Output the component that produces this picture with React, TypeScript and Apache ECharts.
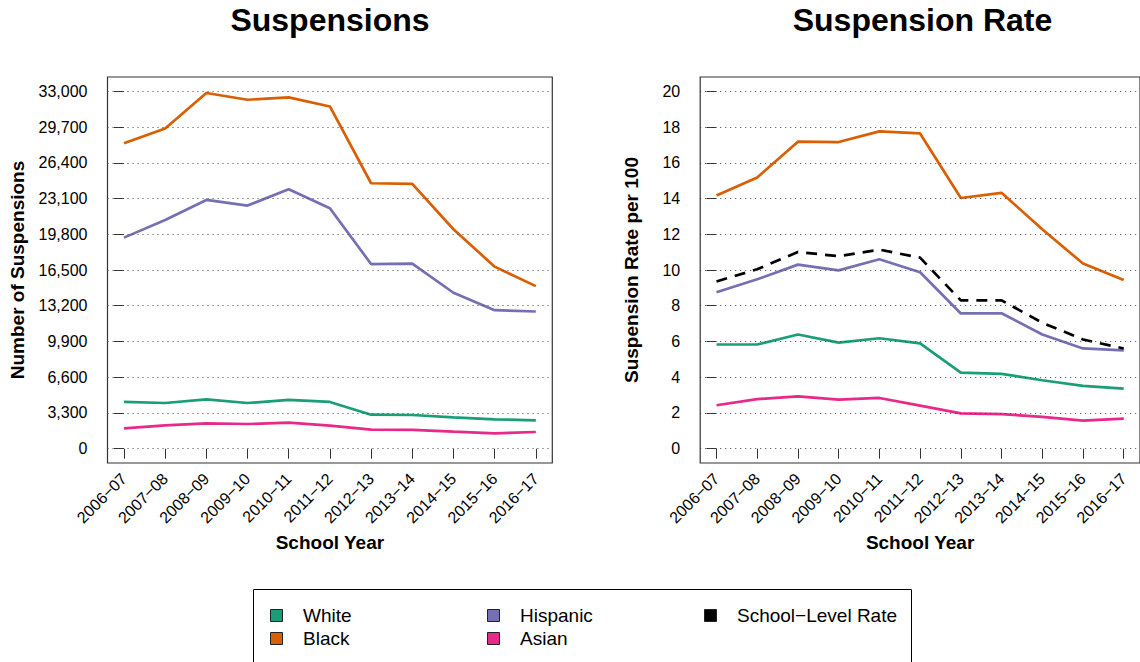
import React, { useEffect, useRef } from "react";
import * as echarts from "echarts";

const categories = ["2006−07", "2007−08", "2008−09", "2009−10", "2010−11", "2011−12", "2012−13", "2013−14", "2014−15", "2015−16", "2016−17"];
const countTicks = [0, 3300, 6600, 9900, 13200, 16500, 19800, 23100, 26400, 29700, 33000];
const rateTicks = [0, 2, 4, 6, 8, 10, 12, 14, 16, 18, 20];

const groupNames = ["White", "Black", "Hispanic", "Asian"];
const schoolName = "School−Level Rate";
const groupColors = ["#1B9E77", "#D95F02", "#7570B3", "#E7298A"];
const schoolColor = "#000000";

const whiteCounts = [4320, 4220, 4560, 4220, 4500, 4320, 3140, 3110, 2900, 2710, 2620];
const blackCounts = [28210, 29570, 32840, 32220, 32440, 31600, 24510, 24450, 20260, 16810, 15010];
const hispanicCounts = [19490, 21120, 22970, 22450, 23960, 22200, 17050, 17080, 14400, 12790, 12670];
const asianCounts = [1880, 2160, 2340, 2280, 2400, 2130, 1760, 1730, 1570, 1420, 1540];

const whiteRates = [5.83, 5.83, 6.39, 5.94, 6.18, 5.89, 4.26, 4.19, 3.83, 3.52, 3.36];
const blackRates = [14.17, 15.18, 17.18, 17.16, 17.76, 17.64, 14.03, 14.32, 12.28, 10.36, 9.44];
const hispanicRates = [8.75, 9.48, 10.3, 9.98, 10.6, 9.87, 7.57, 7.58, 6.39, 5.61, 5.5];
const asianRates = [2.43, 2.77, 2.93, 2.75, 2.84, 2.41, 1.98, 1.94, 1.78, 1.57, 1.68];
const schoolRates = [9.36, 10.04, 11.01, 10.77, 11.14, 10.69, 8.3, 8.3, 7.05, 6.11, 5.61];

const titles = ["Suspensions", "Suspension Rate"];
const yTitles = ["Number of Suspensions", "Suspension Rate per 100"];
const xTitle = "School Year";

const FONT = "'Liberation Sans', Arial, Helvetica, sans-serif";

function withCommas(v: number): string {
  return String(v).replace(/\B(?=(\d{3})+(?!\d))/g, ",");
}

export default function App() {
  const ref = useRef<HTMLDivElement>(null);

  useEffect(() => {
    if (!ref.current) return;
    document.body.style.margin = "0";
    const chart = echarts.init(ref.current, null, { renderer: "svg" });

    const catIdx = categories.map((_, i) => i);
    const toData = (vals: number[]) => vals.map((v, i) => [i, v]);

    const countSets = [whiteCounts, blackCounts, hispanicCounts, asianCounts];
    const rateSets = [whiteRates, blackRates, hispanicRates, asianRates];

    const gridLine = (ticks: number[]) => ({
      silent: true,
      symbol: "none",
      label: { show: false },
      lineStyle: { type: [1, 4], color: "#444", width: 1 },
      data: ticks.map((v) => ({ yAxis: v })),
    });

    const xAxisBase = (gridIndex: number) => ({
      type: "value",
      gridIndex,
      min: -0.4,
      max: 10.4,
      axisLine: { show: false },
      splitLine: { show: false },
      axisTick: { show: true, inside: false, length: 10, customValues: catIdx, lineStyle: { color: "#333", width: 1 } },
      axisLabel: {
        customValues: catIdx,
        rotate: 45,
        margin: 13,
        fontSize: 16,
        color: "#000",
        fontFamily: FONT,
        formatter: (v: number) => categories[Math.round(v)] ?? "",
      },
      name: xTitle,
      nameLocation: "middle",
      nameGap: 68,
      nameTextStyle: { fontSize: 19, fontWeight: "bold", color: "#000", fontFamily: FONT },
    });

    const yAxisBase = (gridIndex: number, ticks: number[], min: number, max: number, fmt: (v: number) => string, nameGap: number) => ({
      type: "value",
      gridIndex,
      min,
      max,
      axisLine: { show: false },
      splitLine: { show: false },
      axisTick: { show: true, inside: false, length: 10, customValues: ticks, lineStyle: { color: "#333", width: 1 } },
      axisLabel: { customValues: ticks, margin: 20, fontSize: 16, color: "#000", fontFamily: FONT, formatter: fmt },
      name: yTitles[gridIndex],
      nameLocation: "middle",
      nameGap,
      nameTextStyle: { fontSize: 19, fontWeight: "bold", color: "#000", fontFamily: FONT },
    });

    const series: any[] = [];
    countSets.forEach((vals, k) => {
      series.push({
        type: "line",
        name: groupNames[k],
        xAxisIndex: 0,
        yAxisIndex: 0,
        data: toData(vals),
        symbol: "none",
        lineStyle: { width: 2.7, color: groupColors[k] },
        itemStyle: { color: groupColors[k] },
        z: 3,
        ...(k === 0 ? { markLine: gridLine(countTicks) } : {}),
      });
    });
    rateSets.forEach((vals, k) => {
      series.push({
        type: "line",
        name: groupNames[k],
        xAxisIndex: 1,
        yAxisIndex: 1,
        data: toData(vals),
        symbol: "none",
        lineStyle: { width: 2.7, color: groupColors[k] },
        itemStyle: { color: groupColors[k] },
        z: 3,
        ...(k === 0 ? { markLine: gridLine(rateTicks) } : {}),
      });
    });
    series.push({
      type: "line",
      name: schoolName,
      xAxisIndex: 1,
      yAxisIndex: 1,
      data: toData(schoolRates),
      symbol: "none",
      lineStyle: { width: 2.7, color: schoolColor, type: [11, 8] },
      itemStyle: { color: schoolColor },
      z: 4,
    });

    // legend graphics
    const legendItems = [
      { name: groupNames[0], color: groupColors[0], col: 0, row: 0 },
      { name: groupNames[1], color: groupColors[1], col: 0, row: 1 },
      { name: groupNames[2], color: groupColors[2], col: 1, row: 0 },
      { name: groupNames[3], color: groupColors[3], col: 1, row: 1 },
      { name: schoolName, color: schoolColor, col: 2, row: 0 },
    ];
    const colX = [270, 487, 704];
    const rowY = [615, 638];
    const legendGraphics: any[] = [
      {
        type: "rect",
        shape: { x: 253.5, y: 589.5, width: 658, height: 100 },
        style: { fill: "none", stroke: "#000", lineWidth: 1 },
      },
    ];
    legendItems.forEach((it) => {
      legendGraphics.push({
        type: "rect",
        shape: { x: colX[it.col] + 0.5, y: rowY[it.row] - 6 + 0.5, width: 12, height: 12 },
        style: { fill: it.color, stroke: "#222", lineWidth: 1 },
      });
      legendGraphics.push({
        type: "text",
        x: colX[it.col] + 33,
        y: rowY[it.row],
        style: { text: it.name, font: `19px ${FONT}`, fill: "#000", textAlign: "left", textVerticalAlign: "middle" },
      });
    });

    chart.setOption({
      animation: false,
      backgroundColor: "#ffffff",
      grid: [
        { left: 107.5, top: 77, width: 444.8, height: 386, show: true, borderColor: "#333", borderWidth: 1.2, backgroundColor: "transparent" },
        { left: 700.2, top: 77, width: 444.8, height: 386, show: true, borderColor: "#333", borderWidth: 1.2, backgroundColor: "transparent" },
      ],
      xAxis: [xAxisBase(0), xAxisBase(1)],
      yAxis: [
        yAxisBase(0, countTicks, -1320, 34320, (v: number) => withCommas(v), 81),
        yAxisBase(1, rateTicks, -0.8, 20.8, (v: number) => String(v), 59),
      ],
      series,
      graphic: [
        {
          type: "text",
          x: 330,
          y: 20,
          style: { text: titles[0], font: `bold 32px ${FONT}`, fill: "#000", textAlign: "center", textVerticalAlign: "middle" },
        },
        {
          type: "text",
          x: 922.5,
          y: 20,
          style: { text: titles[1], font: `bold 32px ${FONT}`, fill: "#000", textAlign: "center", textVerticalAlign: "middle" },
        },
        ...legendGraphics,
      ],
    });

    return () => {
      chart.dispose();
    };
  }, []);

  return <div ref={ref} style={{ position: "fixed", left: 0, top: 0, width: 1140, height: 662 }} />;
}
